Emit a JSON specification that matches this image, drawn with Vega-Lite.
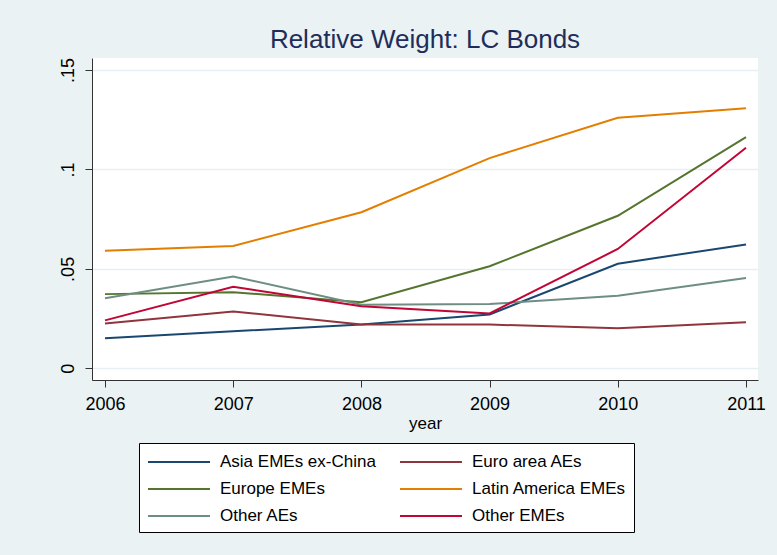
{
  "$schema": "https://vega.github.io/schema/vega-lite/v6.json",
  "width": 666,
  "height": 322,
  "autosize": {"type": "none"},
  "padding": {"left": 92, "top": 58, "right": 19, "bottom": 175},
  "background": "#eaf2f3",
  "title": {
    "text": "Relative Weight: LC Bonds",
    "font": "Liberation Sans",
    "fontSize": 26,
    "fontWeight": "normal",
    "color": "#1e2d5a",
    "anchor": "middle",
    "offset": 4
  },
  "config": {
    "view": {"fill": "white", "stroke": null},
    "font": "Liberation Sans"
  },
  "data": {
    "values": [
      {"year": 2006, "region": "Asia EMEs ex-China", "weight": 0.0151},
      {"year": 2007, "region": "Asia EMEs ex-China", "weight": 0.0186},
      {"year": 2008, "region": "Asia EMEs ex-China", "weight": 0.0220},
      {"year": 2009, "region": "Asia EMEs ex-China", "weight": 0.0271},
      {"year": 2010, "region": "Asia EMEs ex-China", "weight": 0.0526},
      {"year": 2011, "region": "Asia EMEs ex-China", "weight": 0.0623},
      {"year": 2006, "region": "Euro area AEs", "weight": 0.0225},
      {"year": 2007, "region": "Euro area AEs", "weight": 0.0286},
      {"year": 2008, "region": "Euro area AEs", "weight": 0.0220},
      {"year": 2009, "region": "Euro area AEs", "weight": 0.0220},
      {"year": 2010, "region": "Euro area AEs", "weight": 0.0201},
      {"year": 2011, "region": "Euro area AEs", "weight": 0.0231},
      {"year": 2006, "region": "Europe EMEs", "weight": 0.0373},
      {"year": 2007, "region": "Europe EMEs", "weight": 0.0383},
      {"year": 2008, "region": "Europe EMEs", "weight": 0.0332},
      {"year": 2009, "region": "Europe EMEs", "weight": 0.0513},
      {"year": 2010, "region": "Europe EMEs", "weight": 0.0767},
      {"year": 2011, "region": "Europe EMEs", "weight": 0.1162},
      {"year": 2006, "region": "Latin America EMEs", "weight": 0.0591},
      {"year": 2007, "region": "Latin America EMEs", "weight": 0.0615},
      {"year": 2008, "region": "Latin America EMEs", "weight": 0.0785},
      {"year": 2009, "region": "Latin America EMEs", "weight": 0.1057},
      {"year": 2010, "region": "Latin America EMEs", "weight": 0.1260},
      {"year": 2011, "region": "Latin America EMEs", "weight": 0.1308},
      {"year": 2006, "region": "Other AEs", "weight": 0.0352},
      {"year": 2007, "region": "Other AEs", "weight": 0.0462},
      {"year": 2008, "region": "Other AEs", "weight": 0.0320},
      {"year": 2009, "region": "Other AEs", "weight": 0.0323},
      {"year": 2010, "region": "Other AEs", "weight": 0.0365},
      {"year": 2011, "region": "Other AEs", "weight": 0.0454},
      {"year": 2006, "region": "Other EMEs", "weight": 0.0241},
      {"year": 2007, "region": "Other EMEs", "weight": 0.0410},
      {"year": 2008, "region": "Other EMEs", "weight": 0.0312},
      {"year": 2009, "region": "Other EMEs", "weight": 0.0276},
      {"year": 2010, "region": "Other EMEs", "weight": 0.0600},
      {"year": 2011, "region": "Other EMEs", "weight": 0.1109}
    ]
  },
  "mark": {"type": "line", "strokeWidth": 2},
  "encoding": {
    "x": {
      "field": "year",
      "type": "quantitative",
      "scale": {"domain": [2005.8986, 2011.0936], "nice": false, "zero": false},
      "axis": {
        "title": "year",
        "values": [2006, 2007, 2008, 2009, 2010, 2011],
        "format": "d",
        "grid": false,
        "domainColor": "#333333",
        "tickColor": "#333333",
        "tickSize": 7,
        "labelPadding": 8,
        "labelFontSize": 18,
        "labelColor": "#000000",
        "labelFlush": false,
        "labelOverlap": false,
        "titleFontSize": 17,
        "titleFontWeight": "normal",
        "titleColor": "#000000",
        "titlePadding": 2
      }
    },
    "y": {
      "field": "weight",
      "type": "quantitative",
      "scale": {"domain": [-0.00588, 0.15603], "nice": false, "zero": false},
      "axis": {
        "title": null,
        "values": [0, 0.05, 0.1, 0.15],
        "labelExpr": "datum.value == 0 ? '0' : replace(format(datum.value, '.2~f'), '0.', '.')",
        "labelAngle": 270,
        "labelAlign": "center",
        "labelBaseline": "bottom",
        "labelFontSize": 18,
        "labelColor": "#000000",
        "labelPadding": 8,
        "tickSize": 7,
        "domainColor": "#333333",
        "tickColor": "#333333",
        "grid": true,
        "gridColor": "#e6eff1",
        "gridWidth": 1.5
      }
    },
    "color": {
      "field": "region",
      "type": "nominal",
      "scale": {
        "domain": ["Asia EMEs ex-China", "Euro area AEs", "Europe EMEs", "Latin America EMEs", "Other AEs", "Other EMEs"],
        "range": ["#1a476f", "#90353b", "#55752f", "#e37e00", "#6e8e84", "#c10534"]
      },
      "legend": {
        "title": null,
        "orient": "none",
        "legendX": 47,
        "legendY": 385,
        "columns": 2,
        "direction": "horizontal",
        "symbolType": "M-1,0H5.2",
        "symbolSize": 400,
        "symbolStrokeWidth": 2,
        "labelFontSize": 17,
        "labelColor": "#000000",
        "labelOffset": 51,
        "labelLimit": 400,
        "labelExpr": "indexof(datum.value, 'Latin') == 0 ? datum.label + '\u2003\u2003\u2003\u2003\u2003\u2003' : datum.label",
        "columnPadding": 20,
        "rowPadding": 8,
        "padding": 8,
        "strokeColor": "#000000",
        "fillColor": "#ffffff"
      }
    }
  }
}
